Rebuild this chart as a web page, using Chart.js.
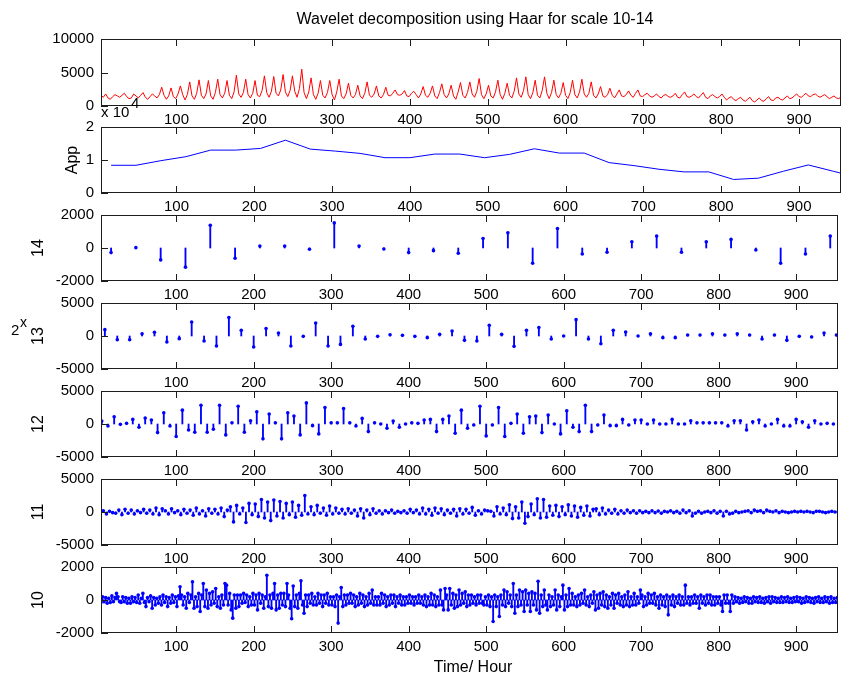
<!DOCTYPE html>
<html>
<head>
<meta charset="utf-8">
<script src="https://cdn.jsdelivr.net/npm/chart.js@4.4.1/dist/chart.umd.min.js"></script>
<style>
  html, body { margin: 0; padding: 0; background: #fff; }
  #fig { position: relative; width: 842px; height: 677px; overflow: hidden; background: #fff; }
  #fig canvas { position: absolute; left: 0; }
</style>
</head>
<body>
<div id="fig"></div>
<script>
// x axis (hours)
const xTicks = [100, 200, 300, 400, 500, 600, 700, 800, 900];
const xMin = 3, xMax = 954;

// original load signal, one value every 3 hours starting at hour 3
const loadStart = 3, loadStep = 3;
const load = [
  1600,1300,1800,1200, 1000,1400,1700,1500, 1300,1600,1900,1400, 1100,1200,1800,1500,
  1200,1600,2000,1300, 1000,1400,1800,1500, 1200,1700,2800,1600, 1000,1500,2700,1400,
  1100,1800,3000,1700, 900,1700,3600,1500, 1000,1900,3900,1600, 1100,1800,3800,1500,
  1000,2000,4000,1700, 1200,1900,3800,1600, 1100,2100,4600,1800, 1300,2000,4000,1700,
  1200,1900,3800,1600, 1400,2300,4500,2000, 1300,2200,4400,1900, 1500,2400,4700,2100,
  1400,2300,4500,2200, 1300,2600,5500,2000, 1100,2100,4200,1700, 1000,1900,3800,1600,
  1200,2000,3800,1700, 900,2100,4000,1500, 1100,1800,3400,1600, 1200,1700,3100,1500,
  1100,1900,3600,1600, 1300,1800,3000,1500, 1200,1700,2800,1600, 1500,1900,2400,1700,
  1600,1800,2300,1500, 1400,1900,2200,1700, 1200,1800,2900,1600, 1300,1900,3000,1500,
  1100,2000,3300,1700, 1200,1800,3100,1500, 1000,2100,3500,1600, 1200,2000,3600,1800,
  1300,2200,4100,1700, 1100,1800,3100,1500, 1200,2100,3850,1700, 1000,1900,3400,1600,
  1200,2200,4200,1800, 1300,2300,4350,1700, 1100,2000,3850,1600, 1200,2300,4350,1900,
  1100,2000,3850,1700, 1200,1900,3500,1600, 1100,2000,3850,1700, 1200,2100,4000,1800,
  1300,1900,3600,1600, 1200,1800,2900,1500, 1300,1700,2650,1600, 1200,1800,2400,1500,
  1400,1700,2250,1600, 1300,1900,2400,1500, 1400,1700,1900,1500, 1300,1500,1800,1400,
  1200,1600,1700,1400, 1300,1500,1900,1300, 1200,1700,2100,1400, 1300,1500,1800,1400,
  1200,1600,2000,1300, 1100,1500,1700,1400, 1200,1400,1800,1300, 900,1200,1400,1000,
  800,1100,1300,900, 700,1000,1300,800, 600,900,1200,800, 700,1100,1400,900,
  800,1200,1300,1000, 900,1200,1500,1100, 1200,1500,1800,1400, 1300,1600,1900,1500,
  1400,1700,1800,1500, 1300,1500,1700,1400, 1100,1300,1500,1200, 1100,1300
];

// approximation (App) nodes
const appHours = [16,48,80,112,144,176,208,240,272,304,336,368,400,432,464,496,528,560,
  592,624,656,688,720,752,784,816,848,880,912,944,954];
const appLoad = [8400,8400,9800,11000,13000,13000,13500,16000,13300,12700,12000,10700,10700,
  11800,11800,10700,11700,13400,12100,12100,9200,8300,7200,6400,6400,4100,4500,6600,8500,6600,6000];

// detail coefficients, scale 14 (every 32 h from hour 16)
const d14 = [-280,20,-720,-1160,1380,-620,120,120,-80,1520,120,-60,-280,-160,-320,
  580,920,-920,1180,-360,-260,380,720,-260,380,520,-120,-920,-360,720];

// scale 13 (every 16 h from hour 8)
const d13 = [960,-560,-560,350,560,-910,-400,2130,-760,-1520,
  2790,860,-1670,1120,460,-1520,-50,1980,-1520,-1270,
  1470,-460,-50,200,100,-50,
  -250,250,760,-660,-760,1620,250,-1570,860,1270,
  -460,0,2480,-460,-1170,860,610,0,350,-250,
  -250,150,150,350,150,350,150,-460,150,-660,
  -50,-150,460,150];

// scale 12 (every 8 h from hour 4)
const d12 = [450,-300,1100,-50,100,700,-500,900,600,-1300,
  1700,-300,-1900,2100,-900,-1250,2850,-1250,-800,2850,
  -1650,200,2700,-1250,500,1850,-2250,1500,200,-2250,
  1700,1200,-1650,3200,-250,-1500,2500,200,200,2350,
  200,-300,850,-1150,200,0,-650,450,-500,0,
  200,100,600,700,-1150,700,1200,-1400,2100,-650,
  -150,2700,-1800,-150,2500,-1900,100,1500,-1400,1100,
  1200,-1300,1350,0,-1500,2000,-500,-1150,2850,-1150,
  -150,1350,-250,-250,700,-150,600,600,0,600,
  0,0,700,0,0,500,200,200,200,200,
  200,-300,500,500,-900,350,600,-300,0,700,
  -300,-300,700,350,-500,500,0,100,0];

// scale 11 (every 4 h from hour 2)
const d11 = [300,200,-300,100,-100,-200,300,-400,400,-200,300,-300,200,-100,400,-200,
  300,-300,600,-400,500,200,-300,500,-100,200,-400,400,-200,300,-500,600,-300,200,-600,500,
  -200,400,-300,600,-700,300,
  800,-1500,1000,-300,600,-1600,1300,-400,1200,-700,1900,-900,1500,-1300,1800,-600,1600,-900,
  1300,-400,1500,-800,1000,-500,2500,-300,800,-400,1000,-200,600,
  -500,900,-300,600,-200,400,-300,500,-200,300,-600,500,-900,300,-400,500,-200,200,-300,200,
  -100,300,-200,100,-100,200,-200,400,-100,300,-300,
  600,-300,400,-500,600,-200,500,-400,300,-200,400,-600,500,-300,400,-200,700,-500,200,-300,
  300,200,100,-600,800,-300,600,-400,1100,-1000,800,-900,1500,-1700,-700,1200,-400,2000,-900,
  1900,-800,900,-500,1000,-700,800,-400,1100,-600,900,-800,700,-500,900,-600,400,
  500,-400,600,-300,300,-200,400,-300,200,-200,300,-100,200,-200,200,-100,
  100,-100,200,-100,150,-200,100,0,200,-100, 100,-200,300,-100,200,-600,-200,100,-200,0,
  100,-100,200,-200,100,-600,100,-300,-200,100, -100,0,100,200,-100,300,100,200,-100,300,
  100,0,200,-100,100,0,-100,0,100,0, 100,0,100,0,-100,100,100,0,-100,0, 100,0,0];

// scale 10 (every 2 h from hour 1)
const d10 = [
  100,-150,200,-100,150,-200,100,-150,250,-100,
  150,400,200,-100,-150,200,-100,150,-200,100,
  -200,200,-100,150,-150,300,-200,100,400,-150,
  -400,150,-100,250,-500,150,-300,100,-200,200,
  -300,300,-150,200,-400,150,-200,300,-150,200,
  -400,250,800,300,-300,200,-500,400,-150,300,
  1100,-500,200,-400,400,-700,300,1000,-400,600,
  -500,400,-300,500,-200,700,-400,200,-500,300,
  -300,1000,900,-300,400,-600,-1100,300,-500,300,
  -400,300,-200,400,-150,300,-400,200,-300,400,
  -300,300,-600,400,-200,300,-500,200,1500,-400,
  300,-500,400,1000,-600,300,-500,400,-300,400,
  -400,1000,300,-500,-1140,850,-400,300,-500,400,
  1160,-300,-800,300,-400,300,-200,400,-300,200,
  -300,400,-200,300,-400,300,-200,400,-300,200,
  -300,200,-400,300,-1400,200,760,-400,300,-300,
  300,-200,400,-200,300,-400,200,-300,400,-200,
  300,-400,200,-300,400,-200,600,-300,200,-300,
  200,-300,400,-200,300,-400,200,-300,300,-200,
  300,-400,200,-200,300,-300,200,-300,200,-200,
  300,-200,200,-300,200,-200,300,-200,200,-300,
  300,-400,200,-300,400,-300,300,-400,200,-300,
  600,-300,-600,700,300,-600,700,-300,400,-500,
  300,-400,600,-300,400,-200,500,-400,300,-300,
  300,-200,200,-300,300,-200,300,-200,-300,200,
  -300,300,-400,200,-1300,300,-400,200,-1000,300,
  -300,600,-400,500,-200,300,-400,1000,-800,300,
  -400,600,-300,500,-700,600,-300,400,-700,500,
  -300,400,-600,1140,-800,300,-400,600,-300,-600,
  300,-400,200,-300,600,-600,300,-400,200,900,
  -600,300,-400,700,-300,400,-300,200,-400,300,
  -300,400,-200,600,-300,200,-400,300,-200,500,
  -600,300,-500,400,-300,500,-400,300,-500,200,
  -300,400,-500,300,-200,400,-300,200,-400,300,
  -300,500,-400,200,-300,400,-300,200,-200,600,
  300,-400,200,-300,400,-200,300,-200,400,-300,
  200,-500,300,-300,200,-400,300,-900,200,-300,
  300,-400,200,-200,300,-300,200,-300,900,-200,
  200,-300,200,-200,300,-200,200,-500,300,-200,
  200,-300,300,-200,300,-300,200,-300,200,-200,
  200,-300,-700,300,-200,300,-200,-700,300,-200,
  200,-100,150,-200,100,-150,200,-100,150,-200,
  100,-200,200,-100,150,-150,200,-150,100,-200,
  150,-100,200,-200,200,-100,150,-150,100,-150,
  200,-150,150,-100,200,-150,100,-150,150,-100,
  200,-100,150,-200,100,-150,200,-100,150,-150,
  100,-200,150,-100,200,-150,100,-150,200,-100,
  150,-200,200,-150,100,-150,150
];

const FONT = '"Liberation Sans", Arial, Helvetica, sans-serif';
const AXIS = '#1c1c1c';
const BLUE = '#0000ff';
const fig = document.getElementById('fig');

function series(start, step, vals) {
  return vals.map((v, i) => ({ x: start + i * step, y: v }));
}

// MATLAB-like box with inward ticks and free texts
const boxPlugin = {
  id: 'matlabBox',
  afterDraw(chart, args, opts) {
    const { ctx, chartArea: a, scales } = chart;
    ctx.save();
    ctx.strokeStyle = AXIS;
    ctx.lineWidth = 1;
    ctx.strokeRect(a.left + 0.5, a.top + 0.5, a.right - a.left - 1, a.bottom - a.top - 1);
    ctx.beginPath();
    scales.x.ticks.forEach(t => {
      const px = Math.round(scales.x.getPixelForValue(t.value)) + 0.5;
      ctx.moveTo(px, a.top); ctx.lineTo(px, a.top + 7);
      ctx.moveTo(px, a.bottom); ctx.lineTo(px, a.bottom - 7);
    });
    scales.y.ticks.forEach(t => {
      const py = Math.round(scales.y.getPixelForValue(t.value)) + 0.5;
      ctx.moveTo(a.left, py); ctx.lineTo(a.left + 7, py);
    });
    ctx.stroke();
    ctx.fillStyle = '#000';
    ctx.textBaseline = 'middle';
    (opts.texts || []).forEach(t => {
      ctx.font = (t.size || 15) + 'px ' + FONT;
      ctx.textAlign = t.align || 'left';
      ctx.fillText(t.text, t.x, t.y - opts.top);
    });
    ctx.restore();
  }
};

function panel(p) {
  const padTop = p.padTop || 20;
  const below = p.below || 26;
  const canvasTop = p.top - padTop;
  const cv = document.createElement('canvas');
  cv.width = 842;
  cv.height = padTop + p.height + below;
  cv.style.top = canvasTop + 'px';
  fig.appendChild(cv);
  const tickFont = { family: FONT, size: 15 };
  return new Chart(cv, {
    type: 'line',
    data: { datasets: p.datasets },
    plugins: [boxPlugin],
    options: {
      responsive: false,
      animation: false,
      devicePixelRatio: 1,
      layout: { padding: { left: 0, right: 1, top: padTop, bottom: 0 } },
      plugins: {
        legend: { display: false },
        tooltip: { enabled: false },
        matlabBox: { texts: p.texts || [], top: canvasTop }
      },
      scales: {
        x: {
          type: 'linear', min: xMin, max: xMax, offset: false,
          grid: { display: false, drawTicks: false }, border: { display: false },
          ticks: { padding: 5, color: '#000', font: tickFont, maxRotation: 0, autoSkip: false,
                   callback: v => String(v) },
          afterBuildTicks: s => { s.ticks = xTicks.map(v => ({ value: v })); },
          afterFit: s => { s.height = below; }
        },
        y: {
          type: 'linear', min: p.yMin, max: p.yMax,
          grid: { display: false, drawTicks: false }, border: { display: false },
          ticks: { padding: 7, color: '#000', font: tickFont, autoSkip: false,
                   callback: p.fmt || (v => String(v)) },
          afterBuildTicks: s => { s.ticks = p.yTicks.map(v => ({ value: v })); },
          afterFit: s => { s.width = 101; },
          title: { display: true, text: p.yLabel || '', color: '#000',
                   font: { family: FONT, size: 16 }, padding: { top: p.yLabelPad || 29, bottom: 0 } }
        }
      }
    }
  });
}

function stemSets(start, step, vals) {
  const pts = series(start, step, vals);
  return [
    { type: 'bar', data: pts, backgroundColor: BLUE, borderWidth: 0, barThickness: 1.2,
      grouped: false, order: 2 },
    { type: 'line', data: pts, showLine: false, pointRadius: 1.8, pointBackgroundColor: BLUE,
      pointBorderWidth: 0, order: 1 }
  ];
}

const lineStyle = { borderWidth: 1, pointRadius: 0, tension: 0, fill: false };

panel({
  top: 39, height: 67, padTop: 39,
  yMin: 0, yMax: 10000, yTicks: [0, 5000, 10000], yLabel: '',
  datasets: [Object.assign({ data: series(loadStart, loadStep, load), borderColor: '#ff0000' }, lineStyle)],
  texts: [
    { text: 'Wavelet decomposition using Haar for scale 10-14', x: 475, y: 20, size: 16, align: 'center' },
    { text: 'x 10', x: 101, y: 113, size: 15 },
    { text: '4', x: 131, y: 104, size: 15 }
  ]
});

panel({
  top: 127, height: 66,
  yMin: 0, yMax: 20000, yTicks: [0, 10000, 20000], yLabel: 'App', yLabelPad: 63,
  fmt: v => String(v / 10000),
  datasets: [Object.assign({ data: appHours.map((h, i) => ({ x: h, y: appLoad[i] })), borderColor: BLUE }, lineStyle)]
});

panel({
  top: 215, height: 66,
  yMin: -2000, yMax: 2000, yTicks: [-2000, 0, 2000], yLabel: '14',
  datasets: stemSets(16, 32, d14)
});

panel({
  top: 303, height: 66,
  yMin: -5000, yMax: 5000, yTicks: [-5000, 0, 5000], yLabel: '13',
  datasets: stemSets(8, 16, d13),
  texts: [
    { text: '2', x: 11, y: 331, size: 15 },
    { text: 'x', x: 20, y: 323, size: 14 }
  ]
});

panel({
  top: 391, height: 66,
  yMin: -5000, yMax: 5000, yTicks: [-5000, 0, 5000], yLabel: '12',
  datasets: stemSets(4, 8, d12)
});

panel({
  top: 479, height: 66,
  yMin: -5000, yMax: 5000, yTicks: [-5000, 0, 5000], yLabel: '11',
  datasets: stemSets(2, 4, d11)
});

panel({
  top: 567, height: 66, below: 44,
  yMin: -2000, yMax: 2000, yTicks: [-2000, 0, 2000], yLabel: '10',
  datasets: stemSets(1, 2, d10),
  texts: [
    { text: 'Time/ Hour', x: 473, y: 668, size: 16, align: 'center' }
  ]
});
</script>
</body>
</html>
